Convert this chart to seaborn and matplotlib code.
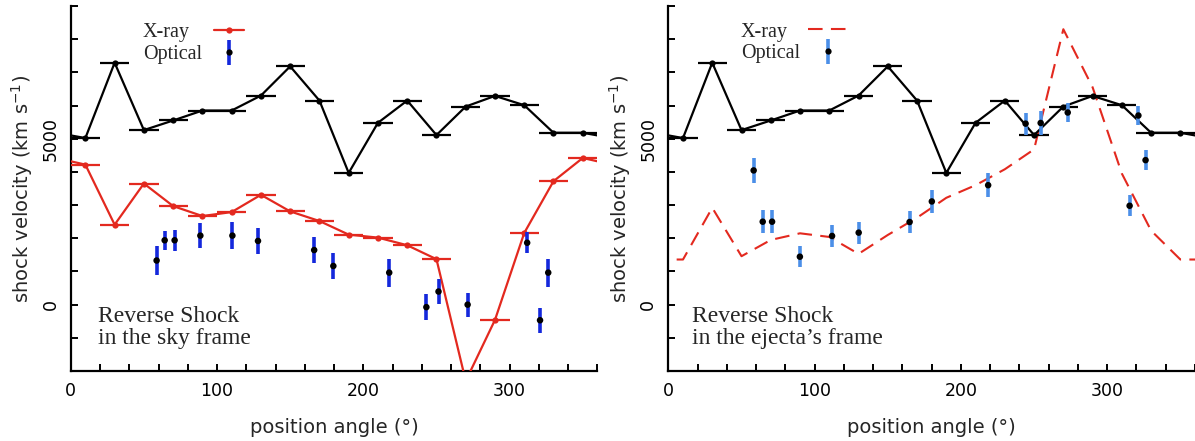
import matplotlib
matplotlib.use("Agg")
import matplotlib.pyplot as plt
import seaborn as sns
from matplotlib.lines import Line2D
from matplotlib.legend_handler import HandlerTuple
from matplotlib.ticker import MultipleLocator, FixedLocator, NullFormatter

# ---------------- data ----------------
bin_pa = [10, 30, 50, 70, 90, 110, 130, 150, 170, 190, 210, 230, 250, 270, 290, 310, 330, 350]
bin_half_width = 10
forward_v = [5020, 7290, 5260, 5550, 5850, 5850, 6300, 7180, 6150, 3970,
             5480, 6150, 5110, 5970, 6290, 6010, 5180, 5180]
xray_sky_v = [4220, 2410, 3650, 2970, 2670, 2790, 3310, 2810, 2520, 2110,
              2020, 1790, 1370, -2300, -460, 2160, 3720, 4420]
xray_ejecta_v = [1360, 2920, 1460, 1950, 2150, 2040, 1530, 2100, 2620, 3220,
                 3600, 4080, 4680, 8300, 6550, 3950, 2230, 1360]

opt_pa_sky = [58.7, 64.2, 71.0, 88.6, 110.5, 128.0, 166.4, 179.5, 217.7, 243.1,
              251.4, 271.3, 312.0, 320.8, 326.4]
opt_v_sky = [1330, 1940, 1940, 2080, 2080, 1920, 1645, 1165, 965, -75,
             395, 0, 1865, -470, 965]
opt_err_sky = [450, 290, 310, 370, 400, 390, 380, 380, 425, 395,
               365, 360, 315, 375, 425]

opt_pa_ej = [58.3, 64.5, 70.9, 89.9, 111.9, 130.1, 164.9, 180.1, 218.6, 244.2,
             254.5, 273.0, 315.3, 321.3, 326.2]
opt_v_ej = [4045, 2500, 2500, 1445, 2070, 2170, 2490, 3110, 3600, 5455,
            5475, 5790, 2980, 5700, 4355]
opt_err_ej = [370, 340, 340, 320, 320, 330, 330, 350, 360, 330,
              370, 300, 320, 300, 310]

x_ticks_major = [0, 100, 200, 300]
y_ticks_major = [0, 5000]

# ---------------- style ----------------
sns.set_theme(style="ticks")
plt.rcParams['font.family'] = ['DejaVu Sans']
plt.rcParams['axes.edgecolor'] = 'black'

RED = '#e3291f'
BLUE_DARK = '#1428dc'
BLUE_LIGHT = '#4b8fe8'
SERIF = 'Liberation Serif'


def wrap(pa, v):
    """periodic extension so the curve runs to both edges (0 and 360 deg)"""
    return [pa[-1] - 360] + list(pa) + [pa[0] + 360], [v[-1]] + list(v) + [v[0]]


fig = plt.figure(figsize=(11.95, 4.41), dpi=100)
axL = fig.add_axes([0.0592, 0.1587, 0.4407, 0.8277])
axR = fig.add_axes([0.5593, 0.1587, 0.4407, 0.8277])


def style_axes(ax):
    ax.set_xlim(0, 360)
    ax.set_ylim(-2000, 9000)
    ax.xaxis.set_major_locator(FixedLocator(x_ticks_major))
    ax.xaxis.set_minor_locator(MultipleLocator(20))
    ax.yaxis.set_major_locator(FixedLocator(y_ticks_major))
    ax.yaxis.set_minor_locator(MultipleLocator(1000))
    ax.xaxis.set_minor_formatter(NullFormatter())
    ax.yaxis.set_minor_formatter(NullFormatter())
    ax.tick_params(which='both', direction='in', length=5, width=1.4,
                   color='black', labelsize=12.5, pad=8, labelcolor='black')
    ax.tick_params(axis='y', labelrotation=90)
    plt.setp(ax.get_yticklabels(), va='center')
    sns.despine(ax=ax)
    for s in ('left', 'bottom'):
        ax.spines[s].set_linewidth(1.6)
        ax.spines[s].set_color('black')
    ax.set_xlabel('position angle (°)', fontsize=14)
    ax.set_ylabel('shock velocity (km s$^{-1}$)', fontsize=14)
    ax.xaxis.label.set_va('center')
    ax.yaxis.label.set_va('center')
    ax.xaxis.set_label_coords(0.5, -0.156)
    ax.yaxis.set_label_coords(-0.092, 0.5)
    ax.set_facecolor('white')
    ax.grid(False)


for ax in (axL, axR):
    style_axes(ax)
    # forward shock (black) with bin widths
    wx, wy = wrap(bin_pa, forward_v)
    sns.lineplot(x=wx, y=wy, ax=ax, color='black', lw=1.6, marker='o',
                 markersize=4.5, markeredgewidth=0, sort=False, estimator=None,
                 legend=False, zorder=3)
    ax.errorbar(bin_pa, forward_v, xerr=bin_half_width, fmt='none',
                ecolor='black', elinewidth=1.6, capsize=0, zorder=3)

# ---- left panel: sky frame ----
wx, wy = wrap(bin_pa, xray_sky_v)
sns.lineplot(x=wx, y=wy, ax=axL, color=RED, lw=1.6, marker='o', markersize=4.5,
             markeredgewidth=0, sort=False, estimator=None, legend=False, zorder=3)
axL.errorbar(bin_pa, xray_sky_v, xerr=bin_half_width, fmt='none', ecolor=RED,
             elinewidth=1.6, capsize=0, zorder=3)
axL.errorbar(opt_pa_sky, opt_v_sky, yerr=opt_err_sky, fmt='none',
             ecolor=BLUE_DARK, elinewidth=2.6, capsize=0, zorder=4)
sns.scatterplot(x=opt_pa_sky, y=opt_v_sky, ax=axL, color='black', s=22,
                edgecolor='none', legend=False, zorder=5)

# ---- right panel: ejecta frame ----
wx, wy = wrap(bin_pa, xray_ejecta_v)
sns.lineplot(x=wx, y=wy, ax=axR, color=RED, lw=1.5, sort=False, estimator=None,
             legend=False, dashes=False, zorder=2)
axR.lines[-1].set_dashes((7, 4))
axR.errorbar(opt_pa_ej, opt_v_ej, yerr=opt_err_ej, fmt='none',
             ecolor=BLUE_LIGHT, elinewidth=2.6, capsize=0, zorder=4)
sns.scatterplot(x=opt_pa_ej, y=opt_v_ej, ax=axR, color='black', s=22,
                edgecolor='none', legend=False, zorder=5)

# ---- legends ----
def opt_handle(c):
    return (Line2D([], [], ls='none', marker='|', ms=18, mew=2.6, color=c),
            Line2D([], [], ls='none', marker='o', ms=4.5, mew=0, color='black'))

xray_L = Line2D([], [], color=RED, lw=1.6, marker='o', ms=4.5, mew=0)
xray_R = Line2D([], [], color=RED, lw=1.5, dashes=(7, 4))

legL = axL.legend([xray_L, opt_handle(BLUE_DARK)], ['X-ray', 'Optical'],
                  handler_map={tuple: HandlerTuple(ndivide=1)}, markerfirst=False,
                  frameon=False, loc='upper left', bbox_to_anchor=(0.137, 0.953),
                  borderpad=0, borderaxespad=0, handlelength=1.5, handletextpad=0.6,
                  labelspacing=0.12, prop={'family': SERIF, 'size': 14.5})
legR = axR.legend([xray_R, opt_handle(BLUE_LIGHT)], ['X-ray', 'Optical'],
                  handler_map={tuple: HandlerTuple(ndivide=1)}, markerfirst=False,
                  frameon=False, loc='upper left', bbox_to_anchor=(0.138, 0.955),
                  borderpad=0, borderaxespad=0, handlelength=2.0, handletextpad=0.4,
                  labelspacing=0.12, prop={'family': SERIF, 'size': 14.5})

axL.text(0.052, 0.12, 'Reverse Shock\nin the sky frame', transform=axL.transAxes,
         ha='left', va='center', family=SERIF, fontsize=17, linespacing=1.05)
axR.text(0.045, 0.12, 'Reverse Shock\nin the ejecta\u2019s frame', transform=axR.transAxes,
         ha='left', va='center', family=SERIF, fontsize=17, linespacing=1.05)

# left-align legend texts while keeping the handles in one column
fig.canvas.draw()
renderer = fig.canvas.get_renderer()
for leg in (legL, legR):
    widths = [t.get_window_extent(renderer).width for t in leg.get_texts()]
    wmax = max(widths)
    column = leg._legend_handle_box.get_children()[0]
    for row, w in zip(column.get_children(), widths):
        row.sep += (wmax - w) * 72.0 / fig.dpi

fig.savefig('out.png', dpi=100, facecolor='white')
